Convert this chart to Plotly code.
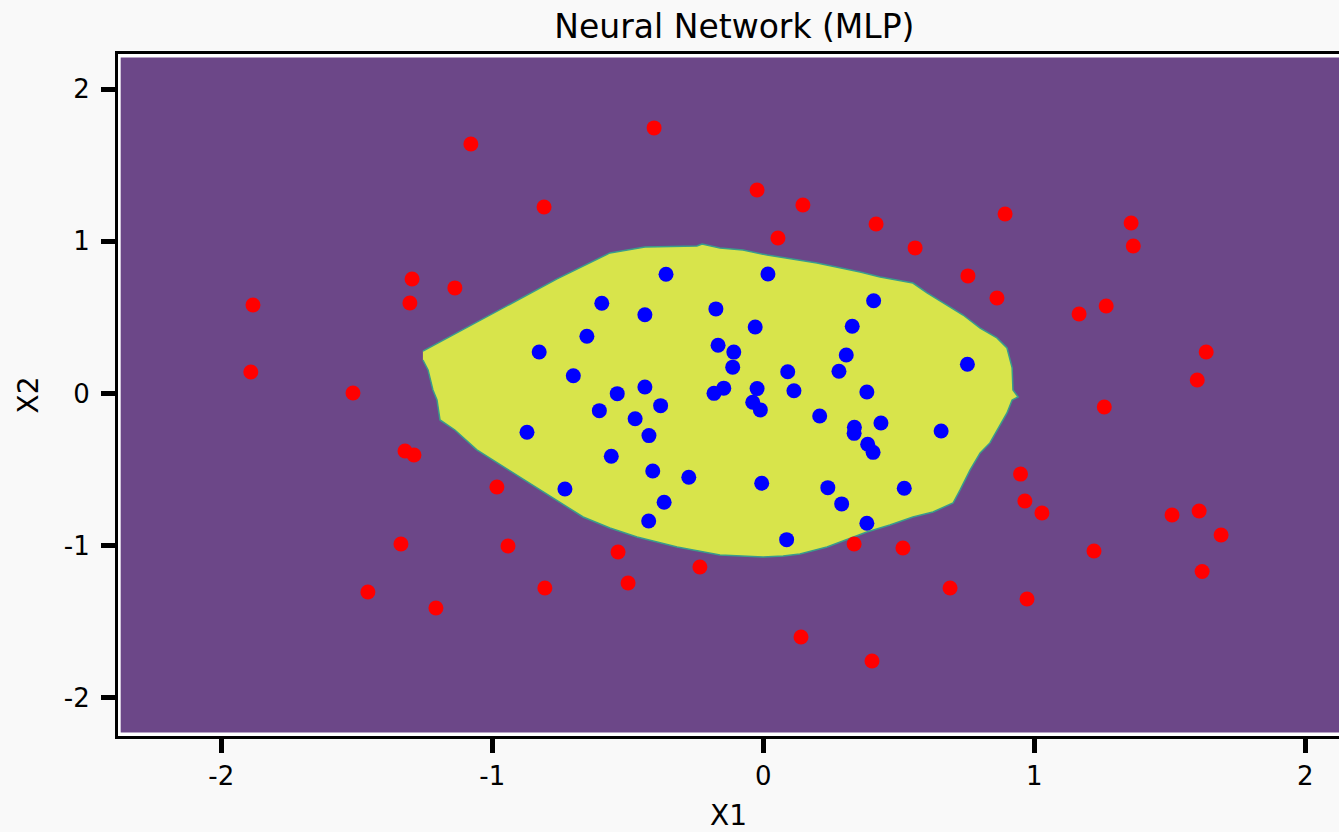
import plotly.graph_objects as go

# Class 0 samples (outer ring), red
red_x1 = [-0.403, -1.079, -0.809, -0.023, 0.146, 0.054, 0.416, 0.560, 0.892, 1.357,
          1.365, 0.755, 0.862, 1.265, 1.165, 1.634, 1.601, 1.258, 0.949, 0.965,
          1.028, 1.508, 1.608, 1.689, 1.220, 1.619, 0.973, 0.689, 0.515, 0.335,
          0.139, 0.401, -0.234, -0.499, -0.536, -0.806, -0.942, -0.983, -1.208, -1.337,
          -1.459, -1.322, -1.289, -1.514, -1.891, -1.883, -1.304, -1.296, -1.138]
red_x2 = [1.746, 1.640, 1.226, 1.338, 1.239, 1.022, 1.114, 0.957, 1.180, 1.121,
          0.970, 0.773, 0.628, 0.575, 0.523, 0.273, 0.089, -0.089, -0.530, -0.707,
          -0.786, -0.799, -0.773, -0.930, -1.036, -1.170, -1.351, -1.279, -1.016, -0.990,
          -1.601, -1.759, -1.141, -1.246, -1.042, -1.279, -1.003, -0.615, -1.410, -0.990,
          -1.305, -0.378, -0.404, 0.003, 0.141, 0.582, 0.595, 0.753, 0.694]

# Class 1 samples (inner disc), blue
blue_x1 = [-0.359, -0.596, -0.437, -0.175, -0.651, -0.827, -0.167, -0.109, -0.113, -0.701,
           -0.437, -0.539, -0.182, -0.146, -0.039, -0.605, -0.379, -0.473, -0.422, -0.872,
           -0.561, -0.408, -0.275, -0.732, -0.366, -0.423, 0.017, 0.407, -0.030, 0.328,
           0.306, 0.279, 0.090, 0.753, -0.023, 0.113, 0.382, -0.011, 0.208, 0.336,
           0.335, 0.434, 0.385, 0.405, 0.656, -0.006, 0.238, 0.289, 0.520, 0.382, 0.086]
blue_x2 = [0.784, 0.593, 0.518, 0.556, 0.376, 0.273, 0.317, 0.272, 0.173, 0.117,
           0.043, -0.001, 0.001, 0.035, -0.058, -0.113, -0.080, -0.166, -0.277, -0.255,
           -0.413, -0.510, -0.551, -0.628, -0.715, -0.838, 0.786, 0.610, 0.437, 0.442,
           0.253, 0.146, 0.143, 0.192, 0.032, 0.018, 0.010, -0.108, -0.148, -0.222,
           -0.262, -0.194, -0.334, -0.387, -0.247, -0.590, -0.619, -0.726, -0.623, -0.853, -0.961]

# Decision boundary of the MLP (edge of the class-1 region)
boundary_x1 = [-1.256, -1.045, -0.761, -0.566, -0.437, -0.245, -0.226, -0.160, -0.075, 0.014,
               0.198, 0.357, 0.431, 0.552, 0.604, 0.737, 0.800, 0.862, 0.899, 0.918,
               0.921, 0.940, 0.918, 0.899, 0.862, 0.836, 0.800, 0.763, 0.726, 0.700,
               0.626, 0.552, 0.467, 0.382, 0.235, 0.135, 0.073, -0.001, -0.160, -0.318,
               -0.466, -0.566, -0.665, -0.824, -0.898, -0.972, -1.057, -1.138, -1.193, -1.204,
               -1.219, -1.237, -1.256]
boundary_x2 = [0.279, 0.483, 0.753, 0.924, 0.963, 0.970, 0.983, 0.957, 0.943, 0.910,
               0.858, 0.799, 0.766, 0.726, 0.661, 0.516, 0.430, 0.365, 0.299, 0.168,
               0.023, -0.023, -0.043, -0.128, -0.240, -0.325, -0.391, -0.503, -0.634, -0.720,
               -0.779, -0.812, -0.865, -0.911, -1.009, -1.055, -1.068, -1.075, -1.062, -1.009,
               -0.943, -0.884, -0.812, -0.634, -0.549, -0.470, -0.371, -0.240, -0.174, -0.043,
               0.023, 0.155, 0.220]

tick_vals = [-2, -1, 0, 1, 2]
tick_text = ["-2", "-1", "0", "1", "2"]

PURPLE = "#6C4788"
YELLOW = "#D8E44B"
EDGE = "#3A9C8C"
FONT = "DejaVu Sans"

fig = go.Figure()

fig.add_trace(go.Scatter(
    x=boundary_x1, y=boundary_x2, mode="lines", fill="toself",
    fillcolor=YELLOW, line=dict(color=EDGE, width=1.5),
    hoverinfo="skip", showlegend=False,
))
fig.add_trace(go.Scatter(
    x=red_x1, y=red_x2, mode="markers",
    marker=dict(color="#FF0000", size=15, line=dict(width=0)),
    showlegend=False, name="class 0",
))
fig.add_trace(go.Scatter(
    x=blue_x1, y=blue_x2, mode="markers",
    marker=dict(color="#0000FF", size=15, line=dict(width=0)),
    showlegend=False, name="class 1",
))

# thin white inner rim between the frame and the filled area
rim = dict(type="rect", xref="paper", yref="paper", layer="below",
           fillcolor="white", line=dict(width=0))
fig.add_shape(**rim, x0=0, x1=0.0022, y0=0, y1=1)
fig.add_shape(**rim, x0=0, x1=1, y0=0.9949, y1=1)
fig.add_shape(**rim, x0=0, x1=1, y0=0, y1=0.0051)

axis_common = dict(
    showgrid=False, zeroline=False,
    showline=True, linecolor="black", linewidth=3,
    ticks="outside", ticklen=14, tickwidth=5, tickcolor="black",
    tickvals=tick_vals, ticktext=tick_text,
    tickfont=dict(family=FONT, size=26, color="black"),
)

fig.update_xaxes(
    **axis_common, range=[-2.381, 2.124], mirror=True, ticklabelstandoff=1,
    title=dict(text="X1", font=dict(family=FONT, size=28, color="black"), standoff=17),
)
fig.update_yaxes(
    **axis_common, range=[-2.252, 2.232], mirror=False, ticklabelstandoff=6,
    title=dict(text="X2", font=dict(family=FONT, size=28, color="black"), standoff=18),
)

fig.update_layout(
    width=1339, height=832,
    margin=dict(l=118, r=0, t=54, b=96),
    paper_bgcolor="#F9F9F9",
    plot_bgcolor=PURPLE,
    title=dict(text="Neural Network (MLP)", xref="container", x=0.5485, xanchor="center",
               yref="container", y=0.968, yanchor="middle",
               font=dict(family=FONT, size=33, color="black")),
)

fig.write_html("out.html")
